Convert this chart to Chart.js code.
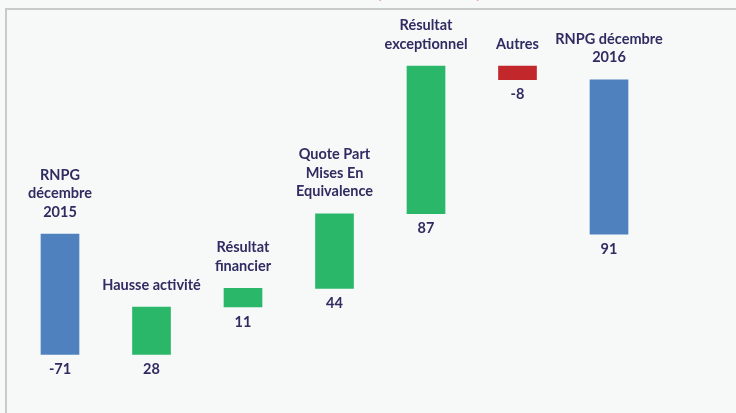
<!DOCTYPE html>
<html>
<head>
<meta charset="utf-8">
<script src="https://cdn.jsdelivr.net/npm/chart.js@4"></script>
<style>
  html, body { margin: 0; padding: 0; background: #f7f9f8; }
  #wrap { position: relative; width: 736px; height: 413px; overflow: hidden; }
  #frame { position: absolute; left: 5px; top: 8px; right: -10px; bottom: -10px;
           border-top: 2px solid #c9cbca; border-left: 2px solid #c9cbca; }
  #title { position: absolute; left: 0; width: 858px; top: -19px; text-align: center;
           color: #d42a2a; font: bold 17px "Lato", sans-serif; }
  canvas { position: absolute; left: 0; top: 0; }
</style>
</head>
<body>
<div id="wrap">
  <div id="title">(en millions €)</div>
  <div id="frame"></div>
  <canvas id="waterfall" width="736" height="413"></canvas>
</div>
<script>
// categories and values (M€)
const categories = [
  ["RNPG", "décembre", "2015"],
  ["Hausse activité"],
  ["Résultat", "financier"],
  ["Quote Part", "Mises En", "Equivalence"],
  ["Résultat", "exceptionnel"],
  ["Autres"],
  ["RNPG décembre", "2016"],
];
const values = [-71, 28, 11, 44, 87, -8, 91];
const isTotal = [true, false, false, false, false, false, true];

const BLUE = "#4f81be";
const GREEN = "#2ab76a";
const RED = "#c2282b";
const TEXT = "#2f2c62";

// build floating ranges for the waterfall
let running = 0;
const ranges = values.map((v, i) => {
  if (isTotal[i]) {
    running = v;
    return [0, v];
  }
  const start = running;
  running += v;
  return [start, running];
});
const colors = values.map((v, i) => (isTotal[i] ? BLUE : v >= 0 ? GREEN : RED));

const labelPlugin = {
  id: "wfLabels",
  afterDatasetsDraw(chart) {
    const ctx = chart.ctx;
    const meta = chart.getDatasetMeta(0);
    ctx.save();
    ctx.fillStyle = TEXT;
    ctx.font = "bold 14.5px Lato, sans-serif";
    ctx.textAlign = "center";
    ctx.textBaseline = "middle";
    meta.data.forEach((bar, i) => {
      const top = Math.min(bar.y, bar.base);
      const bottom = Math.max(bar.y, bar.base);
      const lines = categories[i];
      lines.forEach((line, j) => {
        const y = top - 22 - (lines.length - 1 - j) * 18.5;
        ctx.fillText(line, bar.x, y);
      });
      ctx.fillText(String(values[i]), bar.x, bottom + 15);
    });
    ctx.restore();
  },
};

new Chart(document.getElementById("waterfall"), {
  type: "bar",
  data: {
    labels: categories.map((c) => c.join(" ")),
    datasets: [
      {
        data: ranges,
        backgroundColor: colors,
        borderWidth: 0,
        barThickness: 38,
      },
    ],
  },
  options: {
    responsive: false,
    animation: false,
    events: [],
    layout: {
      padding: { left: 14.25, right: 81.25, top: 30.6, bottom: 9.4 },
    },
    scales: {
      x: { display: false },
      y: { display: false, min: -100, max: 120 },
    },
    plugins: {
      legend: { display: false },
      tooltip: { enabled: false },
    },
  },
  plugins: [labelPlugin],
});
</script>
</body>
</html>
